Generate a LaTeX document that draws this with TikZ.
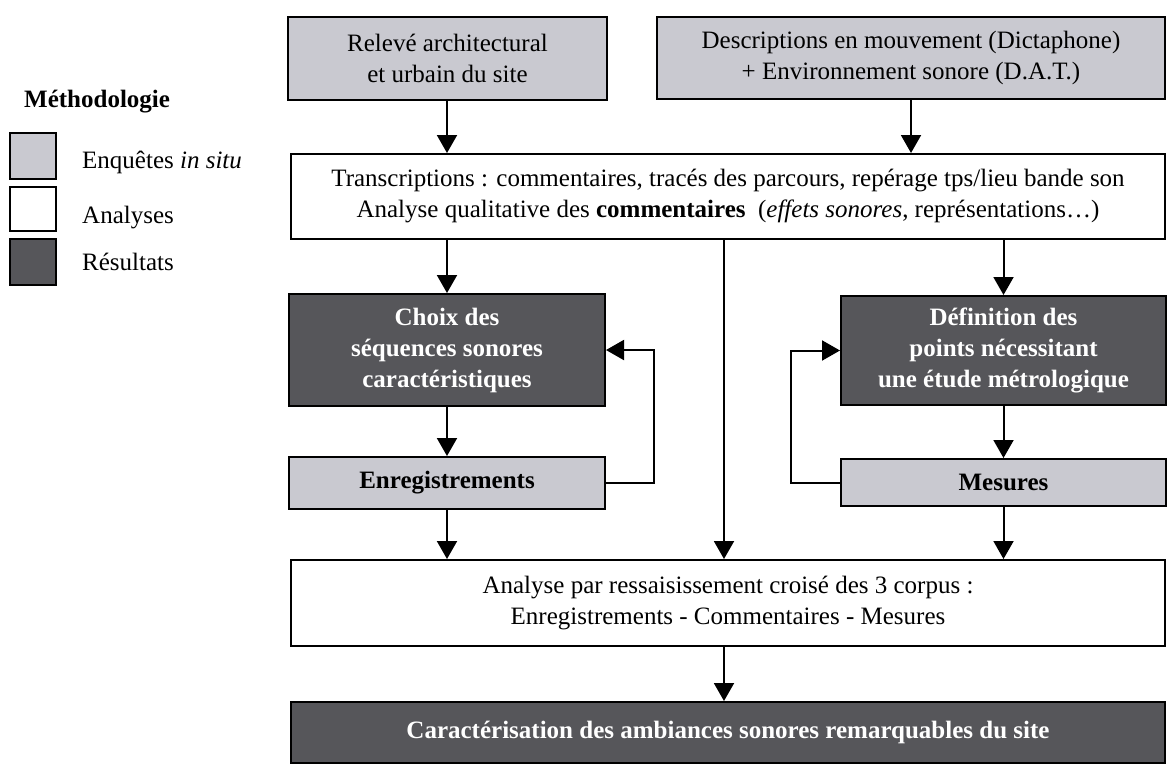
\documentclass[tikz,border=0pt]{standalone}
\usepackage{fontspec}
\setmainfont{Liberation Serif}
\usetikzlibrary{arrows.meta}
\definecolor{lightg}{RGB}{201,201,208}
\definecolor{darkg}{RGB}{86,86,90}
\begin{document}
\begin{tikzpicture}[x=1pt,y=-1pt,
  box/.style={draw=black, line width=2pt, inner sep=0pt, align=center,
    font=\fontsize{25}{31}\selectfont},
  lightbox/.style={box, fill=lightg},
  darkbox/.style={box, fill=darkg, text=white, font=\fontsize{25}{31}\selectfont\bfseries},
  whitebox/.style={box, fill=white},
  arr/.style={line width=2pt, -{Triangle[length=18pt,width=20pt]}},
  line/.style={line width=2pt},
  legsq/.style={draw=black, line width=2pt, minimum width=46pt, inner sep=0pt},
  legtxt/.style={anchor=base west, inner sep=0pt, font=\fontsize{25}{31}\selectfont}]
\useasboundingbox (0,0) rectangle (1169,766);

% legend
\node[legtxt, font=\fontsize{25}{31}\selectfont\bfseries] (legtitle) at (24,107) {Méthodologie};
\node[legsq, fill=lightg, minimum height=46pt] (sq1) at (33,156) {};
\node[legsq, fill=white, minimum height=44pt] (sq2) at (33,209) {};
\node[legsq, fill=darkg, minimum height=46pt] (sq3) at (33,262) {};
\node[legtxt] (lt1) at (82,168) {Enquêtes \textit{in situ}};
\node[legtxt] (lt2) at (82,223) {Analyses};
\node[legtxt] (lt3) at (82,270) {Résultats};

% boxes
\node[lightbox, minimum width=319pt, minimum height=83pt] (rel) at (447.5,58.5)
  {Relevé architectural\\et urbain du site};
\node[lightbox, minimum width=508pt, minimum height=82pt] (desc) at (911,58)
  {Descriptions en mouvement (Dictaphone)\\+ Environnement sonore (D.A.T.)};
\node[whitebox, minimum width=874pt, minimum height=85pt] (trans) at (728,196.5)
  {Transcriptions : commentaires, tracés des parcours, repérage tps/lieu bande son\\
   Analyse qualitative des \textbf{commentaires}\ \ (\textit{effets sonores}, représentations…)};
\node[darkbox, minimum width=316pt, minimum height=112pt] (choix) at (447,350)
  {Choix des\\séquences sonores\\caractéristiques};
\node[lightbox, font=\fontsize{25}{31}\selectfont\bfseries, minimum width=316pt, minimum height=52pt] (enreg) at (447,483)
  {Enregistrements};
\node[darkbox, minimum width=325pt, minimum height=109pt] (def) at (1003.5,350.5)
  {Définition des\\points nécessitant\\une étude métrologique};
\node[lightbox, font=\fontsize{25}{31}\selectfont\bfseries, minimum width=325pt, minimum height=47pt] (mes) at (1003.5,482.5)
  {Mesures};
\node[whitebox, minimum width=874pt, minimum height=86pt] (analyse) at (728,603)
  {Analyse par ressaisissement croisé des 3 corpus :\\Enregistrements - Commentaires - Mesures};
\node[darkbox, minimum width=874pt, minimum height=61pt] (final) at (728,732.5)
  {Caractérisation des ambiances sonores remarquables du site};

% helper coordinates
\coordinate (mid) at (724,0);
\coordinate (loopL) at (654,0);
\coordinate (loopR) at (791,0);

% connectors
\draw[arr] (rel.south -| choix) -- (trans.north -| choix);
\draw[arr] (desc.south) -- (desc.south |- trans.north);
\draw[arr] (trans.south -| choix) -- (choix.north);
\draw[arr] (trans.south -| def) -- (def.north);
\draw[arr] (choix.south) -- (enreg.north);
\draw[arr] (def.south) -- (mes.north);
\draw[arr] (enreg.south) -- (enreg.south |- analyse.north);
\draw[arr] (mes.south) -- (mes.south |- analyse.north);
\draw[arr] (trans.south -| mid) -- (analyse.north -| mid);
\draw[arr] (analyse.south -| mid) -- (final.north -| mid);
\draw[arr] (enreg.east) -- (enreg.east -| loopL) -- (choix.east -| loopL) -- (choix.east);
\draw[arr] (mes.west) -- (mes.west -| loopR) -- (def.west -| loopR) -- (def.west);
\end{tikzpicture}
\end{document}
